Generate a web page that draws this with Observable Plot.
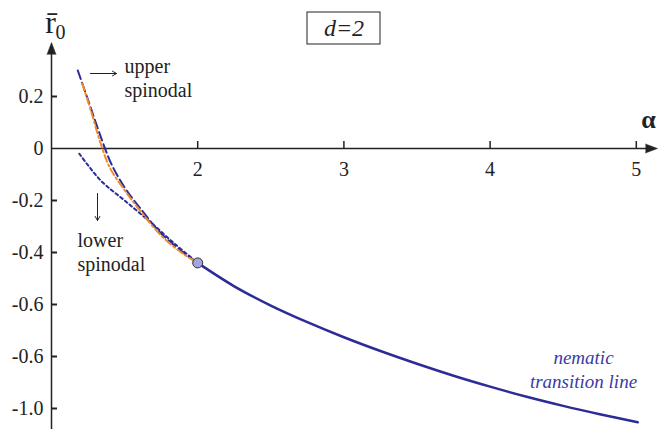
<!DOCTYPE html>
<html><head><meta charset="utf-8">
<script src="https://cdn.jsdelivr.net/npm/d3@7"></script>
<script src="https://cdn.jsdelivr.net/npm/@observablehq/plot@0.6"></script>
<style>html,body{margin:0;padding:0;background:#fff}
svg text{font-family:'Liberation Serif','Tinos','Times New Roman','DejaVu Serif',serif !important;}</style>
</head><body><div id="chart"></div>
<script>
// nematic transition line (solid)
const nematicAlpha = [2, 2.25, 2.5, 2.75, 3, 3.25, 3.5, 3.75, 4, 4.25, 4.5, 4.75, 5.01];
const nematicR     = [-0.44, -0.53, -0.604, -0.668, -0.726, -0.779, -0.828, -0.874, -0.916, -0.955, -0.99, -1.022, -1.053];
// upper spinodal (navy dashed)
const upperAlpha = [1.18, 1.26, 1.34, 1.41, 1.5, 1.6, 1.75, 1.9, 2];
const upperR     = [0.30, 0.17, 0.04, -0.06, -0.15, -0.225, -0.327, -0.40, -0.44];
// orange dash-dot curve
const orangeAlpha = [1.21, 1.27, 1.33, 1.4, 1.5, 1.6, 1.75, 1.9, 2];
const orangeR     = [0.25, 0.145, 0.03, -0.075, -0.16, -0.235, -0.335, -0.405, -0.44];
// lower spinodal (navy dotted)
const lowerAlpha = [1.19, 1.34, 1.5, 1.68, 1.85, 2];
const lowerR     = [-0.02, -0.125, -0.2, -0.285, -0.37, -0.44];
// critical point
const critAlpha = [2];
const critR = [-0.44];
// ticks
const xTicks = [2, 3, 4, 5];
const xTickLabels = ["2", "3", "4", "5"];
const yTicks = [0.2, 0, -0.2, -0.4, -0.6, -0.8, -1.0];
const yTickLabels = ["0.2", "0", "-0.2", "-0.4", "-0.6", "-0.6", "-1.0"];

const pts = (a, r) => a.map((x, i) => ({x, y: r[i]}));
const navy = "#2b2c96";
const orange = "#f28c28";
const ink = "#222";
const serif = "Liberation Serif";

const pxX = 146.2, pxY = 260;
const chart = Plot.plot({
  width: 658, height: 429,
  marginLeft: 51, marginRight: 5, marginTop: 0, marginBottom: 0,
  x: {domain: [1, 1 + 602 / pxX], axis: null},
  y: {domain: [(148 - 429) / pxY, 148 / pxY], axis: null},
  style: "background: #fff;",
  marks: [
    // axes
    Plot.ruleX([1], {y1: (148 - 429) / pxY, y2: (148 - 50) / pxY, stroke: ink, strokeWidth: 1.5}),
    Plot.ruleY([0], {x1: 1, x2: 1 + (648 - 51) / pxX, stroke: ink, strokeWidth: 1.5}),
    Plot.vector([{x: 1, y: (148 - 54) / pxY}], {x: "x", y: "y", length: 12, r: 4.5, shape: "spike", anchor: "start", fill: ink, stroke: ink, strokeWidth: 0.5}),
    Plot.vector([{x: 1 + (645 - 51) / pxX, y: 0}], {x: "x", y: "y", length: 12, r: 4.5, rotate: 90, shape: "spike", anchor: "start", fill: ink, stroke: ink, strokeWidth: 0.5}),
    Plot.ruleX(xTicks, {y1: 0, y2: 7 / pxY, stroke: ink, strokeWidth: 1.5}),
    Plot.ruleY(yTicks.filter(d => d !== 0), {x1: 1, x2: 1 + 6 / pxX, stroke: ink, strokeWidth: 2}),
    Plot.text(xTicks, {x: d => d, y: 0, text: (d, i) => xTickLabels[i], dy: 21, fontSize: 20, fill: ink, fontFamily: serif}),
    Plot.text(yTicks, {x: 1, y: d => d, text: (d, i) => yTickLabels[i], dx: -8, textAnchor: "end", fontSize: 20, fill: ink, fontFamily: serif}),
    // curves
    Plot.line(pts(lowerAlpha, lowerR), {x: "x", y: "y", stroke: navy, strokeWidth: 2, strokeDasharray: "3,3", curve: "catmull-rom"}),
    Plot.line(pts(upperAlpha, upperR), {x: "x", y: "y", stroke: navy, strokeWidth: 2, strokeDasharray: "9,4", curve: "catmull-rom"}),
    Plot.line(pts(orangeAlpha, orangeR), {x: "x", y: "y", stroke: orange, strokeWidth: 2, strokeDasharray: "7,3,2,3", curve: "catmull-rom"}),
    Plot.line(pts(nematicAlpha, nematicR), {x: "x", y: "y", stroke: navy, strokeWidth: 2.5, curve: "catmull-rom"}),
    Plot.dot(pts(critAlpha, critR), {x: "x", y: "y", r: 5, fill: "#a4a4e2", stroke: "#333", strokeWidth: 1}),
    // annotation arrows
    Plot.arrow([{x1: 1 + (90 - 51) / pxX, x2: 1 + (116 - 51) / pxX, y: (148 - 73) / pxY}], {x1: "x1", x2: "x2", y1: "y", y2: "y", stroke: ink, strokeWidth: 1, headLength: 7}),
    Plot.arrow([{x: 1 + (97 - 51) / pxX, y1: (148 - 193) / pxY, y2: (148 - 220) / pxY}], {x1: "x", x2: "x", y1: "y1", y2: "y2", stroke: ink, strokeWidth: 1, headLength: 7}),
    // labels
    Plot.text(["upper", "spinodal"], {x: 1 + (124 - 51) / pxX, y: (d, i) => (148 - 66 - 24 * i) / pxY, text: d => d, textAnchor: "start", fontSize: 20, fill: ink, fontFamily: serif}),
    Plot.text(["lower", "spinodal"], {x: 1 + (77 - 51) / pxX, y: (d, i) => (148 - 240 - 24 * i) / pxY, text: d => d, textAnchor: "start", fontSize: 20, fill: ink, fontFamily: serif}),
    Plot.text(["nematic", "transition line"], {x: 1 + (583 - 51) / pxX, y: (d, i) => (148 - 357 - 24 * i) / pxY, text: d => d, fontSize: 19, fontStyle: "italic", fill: "#3a3aa6", fontFamily: serif}),
    Plot.text(["α"], {x: 1 + (648 - 51) / pxX, y: (148 - 119) / pxY, text: d => d, fontSize: 26, fontWeight: "bold", fill: ink, fontFamily: serif}),
    Plot.text(["r\u0304"], {x: 1 + (50 - 51) / pxX, y: (148 - 22) / pxY, text: d => d, fontSize: 32, fill: ink, fontFamily: serif}),
    Plot.text(["0"], {x: 1 + (60 - 51) / pxX, y: (148 - 32) / pxY, text: d => d, fontSize: 20, fill: ink, fontFamily: serif}),
    Plot.rect([{x1: 1 + (307 - 51) / pxX, x2: 1 + (380 - 51) / pxX, y1: (148 - 12) / pxY, y2: (148 - 44) / pxY}], {x1: "x1", x2: "x2", y1: "y1", y2: "y2", fill: "none", stroke: ink, strokeWidth: 1}),
    Plot.text(["d=2"], {x: 1 + (343.5 - 51) / pxX, y: (148 - 28) / pxY, text: d => d, fontSize: 24, fontStyle: "italic", fill: ink, fontFamily: serif})
  ]
});
document.getElementById("chart").appendChild(chart);
</script>
</body></html>
